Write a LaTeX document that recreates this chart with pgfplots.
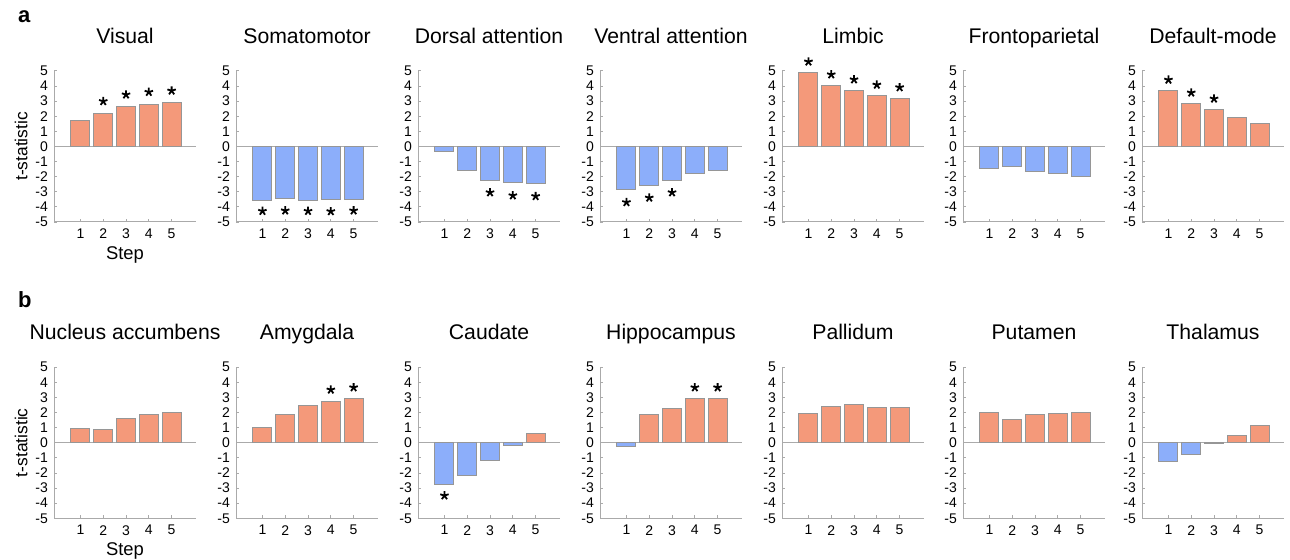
\documentclass[border=0pt]{standalone}
\usepackage{pgfplots}
\pgfplotsset{compat=1.18}
\usepackage{fontspec}
\setmainfont{Liberation Sans}
\definecolor{posc}{RGB}{244,153,122}
\definecolor{negc}{RGB}{140,174,250}
\definecolor{axc}{RGB}{170,170,170}
\definecolor{edc}{RGB}{150,150,150}
\pgfplotsset{
  every axis title shift=0pt,
  panel/.style={
    scale only axis, width=71pt, height=75.6pt,
    xmin=-0.16, xmax=6.07, ymin=-5, ymax=5,
    axis x line*=bottom, axis y line*=left,
    axis line style={axc, line width=0.5pt},
    xtick={1,2,3,4,5}, ytick={-5,-4,-3,-2,-1,0,1,2,3,4,5},
    tick style={axc, line width=0.4pt}, major tick length=1.5pt,
    tick align=inside,
    /pgf/number format/assume math mode=true,
    tick label style={font=\fontsize{7}{7}\selectfont, black},
    yticklabel style={xshift=0.5pt},
    title style={at={(axis description cs:0.5,1.182)}, anchor=base, yshift=0pt, font=\fontsize{10.6}{12}\selectfont},
    xlabel style={at={(axis description cs:0.5,-0.218)}, anchor=center, font=\fontsize{9.2}{10}\selectfont},
    ylabel style={at={(axis description cs:-0.232,0.5)}, anchor=center, font=\fontsize{8.7}{10}\selectfont},
    clip=false,
  },
  pos/.style={ybar, bar width=0.83, fill=posc, draw=edc, line width=0.5pt},
  neg/.style={ybar, bar width=0.83, fill=negc, draw=edc, line width=0.5pt},
  star/.style={only marks, mark=star, mark size=2.2pt, mark options={black, line width=0.9pt}},
}
\newcommand{\zeroline}{\draw[axc, line width=0.5pt] (axis cs:-0.16,0) -- (axis cs:6.07,0);}
\begin{document}
\begin{tikzpicture}
\useasboundingbox (0,0) rectangle (645pt,280pt);
\node[anchor=base west, font=\bfseries\fontsize{11}{12}\selectfont] at (5.5pt,268.5pt) {a};
\node[anchor=base west, font=\bfseries\fontsize{11}{12}\selectfont] at (5.5pt,126pt) {b};
% ---------- Row a ----------
\begin{axis}[panel, at={(27pt,169pt)}, anchor=south west, title={Visual}, xlabel={Step}, ylabel={t-statistic}]
\zeroline
\addplot[pos] coordinates {(1,1.70) (2,2.18) (3,2.62) (4,2.79) (5,2.88)};
\addplot[star] coordinates {(2,2.98) (3,3.42) (4,3.59) (5,3.68)};
\end{axis}
\begin{axis}[panel, at={(118pt,169pt)}, anchor=south west, title={Somatomotor}]
\zeroline
\addplot[neg] coordinates {(1,-3.56) (2,-3.45) (3,-3.56) (4,-3.54) (5,-3.52)};
\addplot[star] coordinates {(1,-4.28) (2,-4.25) (3,-4.28) (4,-4.30) (5,-4.25)};
\end{axis}
\begin{axis}[panel, at={(209pt,169pt)}, anchor=south west, title={Dorsal attention}]
\zeroline
\addplot[neg] coordinates {(1,-0.37) (2,-1.58) (3,-2.24) (4,-2.42) (5,-2.46)};
\addplot[star] coordinates {(3,-3.05) (4,-3.25) (5,-3.30)};
\end{axis}
\begin{axis}[panel, at={(300pt,169pt)}, anchor=south west, title={Ventral attention}]
\zeroline
\addplot[neg] coordinates {(1,-2.86) (2,-2.60) (3,-2.27) (4,-1.80) (5,-1.58)};
\addplot[star] coordinates {(1,-3.70) (2,-3.40) (3,-3.05)};
\end{axis}
\begin{axis}[panel, at={(391pt,169pt)}, anchor=south west, title={Limbic}]
\zeroline
\addplot[pos] coordinates {(1,4.89) (2,4.01) (3,3.72) (4,3.37) (5,3.19)};
\addplot[star] coordinates {(1,5.60) (2,4.75) (3,4.42) (4,4.07) (5,3.90)};
\end{axis}
\begin{axis}[panel, at={(481.5pt,169pt)}, anchor=south west, title={Frontoparietal}]
\zeroline
\addplot[neg] coordinates {(1,-1.47) (2,-1.36) (3,-1.69) (4,-1.81) (5,-1.96)};
\end{axis}
\begin{axis}[panel, at={(571pt,169pt)}, anchor=south west, title={Default-mode}]
\zeroline
\addplot[pos] coordinates {(1,3.68) (2,2.85) (3,2.45) (4,1.90) (5,1.50)};
\addplot[star] coordinates {(1,4.40) (2,3.55) (3,3.15)};
\end{axis}
% ---------- Row b ----------
\begin{axis}[panel, at={(27pt,20.85pt)}, anchor=south west, title={Nucleus accumbens}, xlabel={Step}, ylabel={t-statistic}]
\zeroline
\addplot[pos] coordinates {(1,0.92) (2,0.86) (3,1.58) (4,1.85) (5,2.00)};
\end{axis}
\begin{axis}[panel, at={(118pt,20.85pt)}, anchor=south west, title={Amygdala}]
\zeroline
\addplot[pos] coordinates {(1,1.01) (2,1.85) (3,2.44) (4,2.73) (5,2.90)};
\addplot[star] coordinates {(4,3.50) (5,3.65)};
\end{axis}
\begin{axis}[panel, at={(209pt,20.85pt)}, anchor=south west, title={Caudate}]
\zeroline
\addplot[neg] coordinates {(1,-2.75) (2,-2.15) (3,-1.16) (4,-0.18)};
\addplot[pos] coordinates {(5,0.64)};
\addplot[star] coordinates {(1,-3.50)};
\end{axis}
\begin{axis}[panel, at={(300pt,20.85pt)}, anchor=south west, title={Hippocampus}]
\zeroline
\addplot[neg] coordinates {(1,-0.22)};
\addplot[pos] coordinates {(2,1.89) (3,2.24) (4,2.95) (5,2.95)};
\addplot[star] coordinates {(4,3.65) (5,3.65)};
\end{axis}
\begin{axis}[panel, at={(391pt,20.85pt)}, anchor=south west, title={Pallidum}]
\zeroline
\addplot[pos] coordinates {(1,1.96) (2,2.42) (3,2.51) (4,2.31) (5,2.31)};
\end{axis}
\begin{axis}[panel, at={(481.5pt,20.85pt)}, anchor=south west, title={Putamen}]
\zeroline
\addplot[pos] coordinates {(1,2.00) (2,1.56) (3,1.85) (4,1.91) (5,2.00)};
\end{axis}
\begin{axis}[panel, at={(571pt,20.85pt)}, anchor=south west, title={Thalamus}]
\zeroline
\addplot[neg] coordinates {(1,-1.25) (2,-0.81) (3,-0.04)};
\addplot[pos] coordinates {(4,0.50) (5,1.14)};
\end{axis}
\end{tikzpicture}
\end{document}
